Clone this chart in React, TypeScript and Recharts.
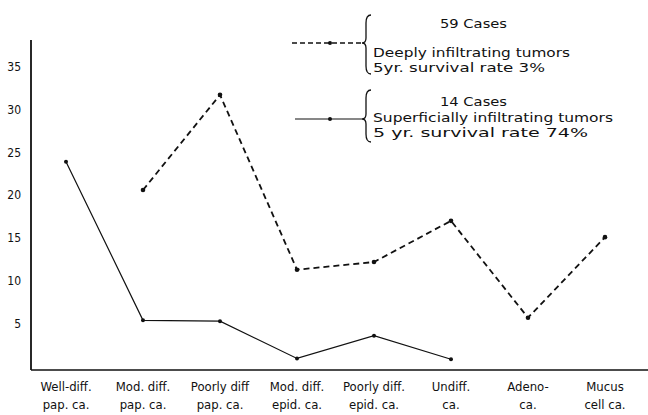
import React from "react";
import { Line, LineChart, XAxis, YAxis } from "recharts";

const categories = [
  "Well-diff.|pap. ca.",
  "Mod. diff.|pap. ca.",
  "Poorly diff|pap. ca.",
  "Mod. diff.|epid. ca.",
  "Poorly diff.|epid. ca.",
  "Undiff.|ca.",
  "Adeno-|ca.",
  "Mucus|cell ca."
];

// 59 cases, deeply infiltrating (dashed)
const deepValues: (number | null)[] = [null, 20.6, 31.7, 11.3, 12.2, 17.0, 5.7, 15.1];
// 14 cases, superficially infiltrating (solid)
const superficialValues: (number | null)[] = [23.9, 5.4, 5.3, 0.95, 3.6, 0.85, null, null];

const yTicks = [5, 10, 15, 20, 25, 30, 35];

const data = categories.map((name, i) => ({
  name,
  deep: deepValues[i],
  superficial: superficialValues[i]
}));

const FONT = "'DejaVu Sans Condensed', 'Liberation Sans Narrow', sans-serif";

function CategoryTick({ x, y, payload }: any) {
  const [l1, l2] = String(payload.value).split("|");
  return (
    <g transform={`translate(${x},${y})`}>
      <text x={0} y={13} textAnchor="middle" fontSize={13} fontFamily={FONT} fill="#111">
        {l1}
      </text>
      <text x={0} y={31} textAnchor="middle" fontSize={13} fontFamily={FONT} fill="#111">
        {l2}
      </text>
    </g>
  );
}

function brace(x: number, top: number, mid: number, bottom: number) {
  return `M ${x + 5} ${top} Q ${x} ${top} ${x} ${top + 8} L ${x} ${mid - 5} Q ${x} ${mid} ${x - 4} ${mid} Q ${x} ${mid} ${x} ${mid + 5} L ${x} ${bottom - 8} Q ${x} ${bottom} ${x + 5} ${bottom}`;
}

function LegendOverlay() {
  const t = { fontSize: 13, fontFamily: FONT, fill: "#111", lengthAdjust: "spacingAndGlyphs" as const };
  return (
    <svg width={648} height={150} style={{ position: "absolute", left: 0, top: 0, pointerEvents: "none" }}>
      <line x1={292} y1={43} x2={362} y2={43} stroke="#111" strokeWidth={1.6} strokeDasharray="5 3" />
      <circle cx={330} cy={43} r={2} fill="#111" />
      <path d={brace(366, 15, 43, 74)} stroke="#111" strokeWidth={1.3} fill="none" />
      <text x={440} y={28} textLength={67} {...t}>59 Cases</text>
      <text x={373} y={57} textLength={197} {...t}>Deeply infiltrating tumors</text>
      <text x={373} y={72} textLength={172} {...t}>5yr. survival rate 3%</text>

      <line x1={295} y1={119} x2={362} y2={119} stroke="#111" strokeWidth={1.2} />
      <circle cx={330} cy={119} r={2} fill="#111" />
      <path d={brace(366, 90, 119, 142)} stroke="#111" strokeWidth={1.3} fill="none" />
      <text x={440} y={106} textLength={67} {...t}>14 Cases</text>
      <text x={373} y={122} textLength={240} {...t}>Superficially infiltrating tumors</text>
      <text x={373} y={137} textLength={215} {...t}>5 yr. survival rate 74%</text>
    </svg>
  );
}

export default function App() {
  return (
    <div style={{ position: "absolute", left: 0, top: 0, width: 648, height: 415, background: "#fff" }}>
      <LineChart width={648} height={415} data={data} margin={{ top: 40, right: 0, left: 0, bottom: 15 }}>
        <XAxis
          dataKey="name"
          height={30}
          padding={{ left: 35, right: 43 }}
          axisLine={{ stroke: "#111", strokeWidth: 1.5 }}
          tickLine={false}
          tick={<CategoryTick />}
          interval={0}
        />
        <YAxis
          width={31}
          domain={[-0.4, 38.1]}
          ticks={yTicks}
          allowDataOverflow
          axisLine={{ stroke: "#111", strokeWidth: 1.8 }}
          tickLine={false}
          tickSize={0}
          tickMargin={10}
          tick={{ fill: "#111", fontSize: 12, fontFamily: FONT }}
        />
        <Line
          dataKey="deep"
          stroke="#111"
          strokeWidth={1.8}
          strokeDasharray="6 4"
          dot={{ r: 2.3, fill: "#111", stroke: "none" }}
          isAnimationActive={false}
        />
        <Line
          dataKey="superficial"
          stroke="#111"
          strokeWidth={1.2}
          dot={{ r: 2, fill: "#111", stroke: "none" }}
          isAnimationActive={false}
        />
      </LineChart>
      <LegendOverlay />
    </div>
  );
}
